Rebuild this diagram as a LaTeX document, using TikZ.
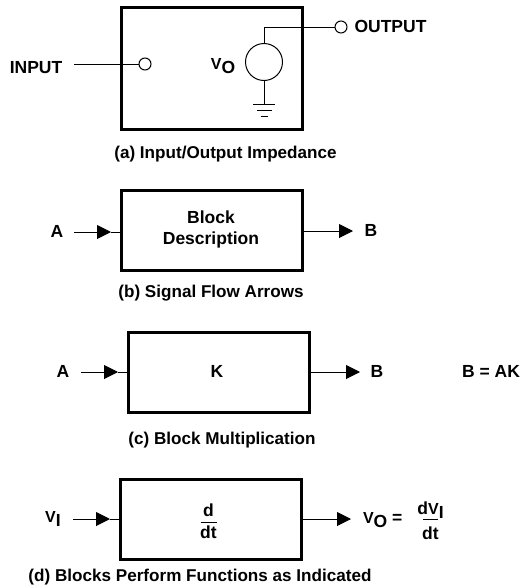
\documentclass[tikz,border=0pt]{standalone}
\usepackage{fontspec}
\setmainfont{Liberation Sans}
\usetikzlibrary{arrows.meta}
\newcommand{\smallv}{{\fontsize{16}{16}\selectfont V}}
\newcommand{\subdn}[1]{\raisebox{-4.5pt}{#1}}
\tikzset{
  lbl/.style={inner sep=0pt,font=\fontsize{17.5}{21}\selectfont\bfseries,align=center},
  capt/.style={inner sep=0pt,font=\fontsize{17.1}{21}\selectfont\bfseries},
  blockbox/.style={draw,line width=3pt,minimum width=181pt,minimum height=80pt,inner sep=0pt},
  port/.style={draw,circle,line width=1pt,minimum size=12pt,inner sep=0pt},
  sigarrow/.style={-{Triangle[length=14pt,width=14pt]}},
}
\begin{document}
\begin{tikzpicture}[x=1pt,y=-1pt,line width=1pt,line cap=butt]
  \useasboundingbox (0,0) rectangle (521,587);
  % (a)
  \node[blockbox,minimum height=122pt] (Ba) at (211.5,68) {};
  \node[lbl] (Lin) at (36,67.5) {INPUT};
  \node[port] (Pin) at (145,64) {};
  \node[port] (Pout) at (341,27) {};
  \node[lbl,anchor=west] (Lout) at (354,26.5) {OUTPUT};
  \node[draw,circle,line width=1pt,minimum size=37pt,inner sep=0pt] (Src) at (264,62) {};
  \node[lbl] (Lvo) at (223,66) {\smallv\subdn{O}};
  \node[capt] (Ca) at (225.5,154) {(a) Input/Output Impedance};
  \coordinate (Ia) at (74,64);
  \coordinate (G1) at (264,104);
  \draw (Ia)--(Pin);
  \draw (Pout)--(264,27)--(Src);
  \draw (Src)--(G1);
  \draw (253,104.5)--(275,104.5) (257,110)--(272,110) (260.5,116)--(268,116);
  % (b)
  \node[blockbox] (Bb) at (212,230.5) {};
  \node[lbl] (Ab) at (57,231) {A};
  \node[lbl] (Tb) at (211,229.5) {Block\\Description};
  \node[lbl] (Rb) at (371,230) {B};
  \node[capt] (Cb) at (211,293.5) {(b) Signal Flow Arrows};
  \coordinate (Sb) at (74,232); \coordinate (Kb) at (111,232); \coordinate (Eb) at (353,231);
  \draw[sigarrow] (Sb)--(Kb);
  \draw (Kb)--(Bb.west |- Kb);
  \draw[sigarrow] (Bb.east |- Eb)--(Eb);
  % (c)
  \node[blockbox] (Bc) at (218.5,372.5) {};
  \node[lbl] (Ac) at (63,371) {A};
  \node[lbl] (Tc) at (217,371) {K};
  \node[lbl] (Rc) at (377,371) {B};
  \node[lbl] (Fc) at (491,371) {B = AK};
  \node[capt] (Cc) at (222,440.5) {(c) Block Multiplication};
  \coordinate (Sc) at (81,372); \coordinate (Kc) at (118,372); \coordinate (Ec) at (360,372);
  \draw[sigarrow] (Sc)--(Kc);
  \draw (Kc)--(Bc.west |- Kc);
  \draw[sigarrow] (Bc.east |- Ec)--(Ec);
  % (d)
  \node[blockbox] (Bd) at (210.5,519.5) {};
  \node[lbl] (Ad) at (53,519) {\smallv\subdn{I}};
  \node[lbl] (Nd) at (208.5,510) {d};
  \node[lbl] (Dd) at (208.5,532) {dt};
  \node[lbl,anchor=west] (Rd) at (362.5,520) {\smallv\subdn{O} =};
  \node[lbl] (Nf) at (430.5,510) {d\smallv\subdn{I}};
  \node[lbl] (Df) at (430.5,533) {dt};
  \node[capt] (Cd) at (200,577.5) {(d) Blocks Perform Functions as Indicated};
  \coordinate (Sd) at (73,519); \coordinate (Kd) at (110,519); \coordinate (Ed) at (351,519);
  \draw[sigarrow] (Sd)--(Kd);
  \draw (Kd)--(Bd.west |- Kd);
  \draw[sigarrow] (Bd.east |- Ed)--(Ed);
  \draw (200.5,522)--(217,522);
  \draw (423,519)--(438,519);
\end{tikzpicture}
\end{document}
